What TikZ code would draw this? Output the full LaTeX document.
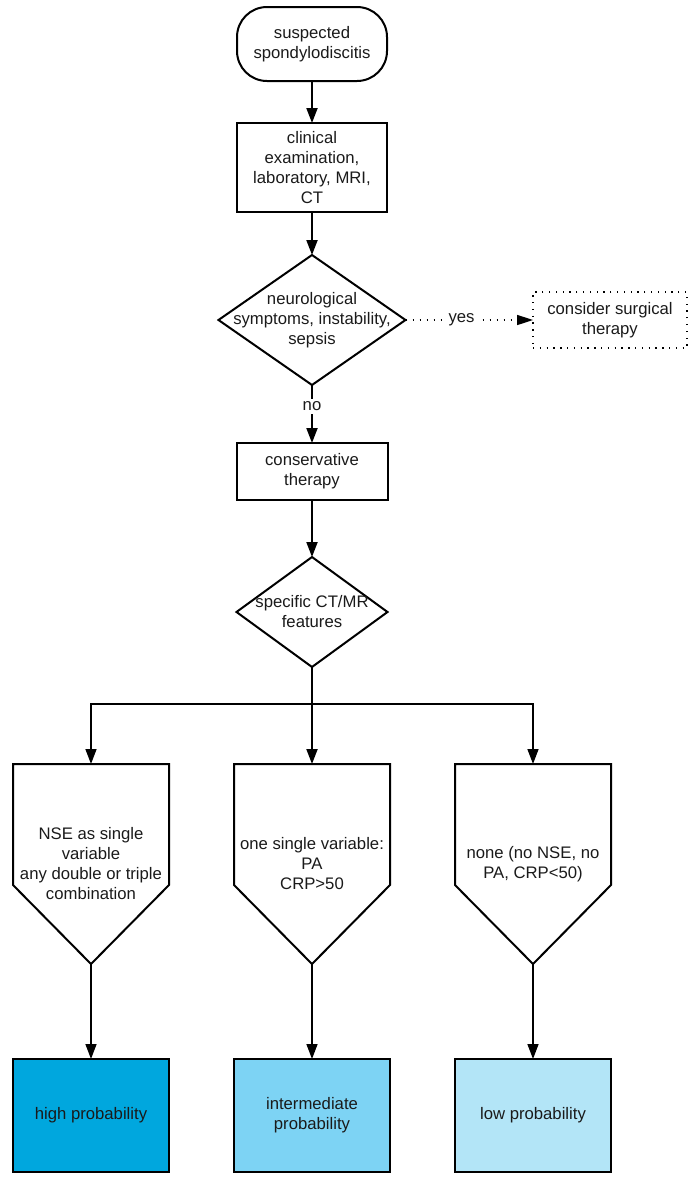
\documentclass[tikz,border=0pt]{standalone}
\usepackage{fontspec}
\setmainfont{Liberation Sans}
\usetikzlibrary{shapes.geometric,arrows.meta,calc}
\definecolor{hiblue}{HTML}{00A7DE}
\definecolor{midblue}{HTML}{7DD3F4}
\definecolor{loblue}{HTML}{B3E5F7}
\definecolor{txt}{HTML}{1A1A1A}
\begin{document}
\begin{tikzpicture}[x=1pt,y=-1pt,
  every node/.style={font=\fontsize{16.7}{20}\selectfont, align=center, inner sep=0pt, outer sep=0pt, text=txt},
  box/.style={draw, line width=2pt, minimum width=150pt},
  dia/.style={diamond, draw, line width=2pt},
  arr/.style={-{Triangle[length=15pt,width=11pt]}, line width=2pt},
  arrthin/.style={-{Triangle[length=15pt,width=11pt]}, line width=1.5pt},
  dotarr/.style={-{Triangle[length=16pt,width=10pt]}, line width=1.6pt, dash pattern=on 1.6pt off 5.4pt},
  pent/.style={minimum width=156pt, minimum height=200pt},
  pentline/.style={line width=2pt, line join=miter},
  res/.style={draw, line width=2pt, minimum width=156pt, minimum height=113pt}
]
\useasboundingbox (0,0) rectangle (699,1184);

\node[box, rounded corners=30pt, minimum height=74pt] (s) at (312,44) {suspected\\spondylodiscitis};
\node[box, minimum height=89pt] (ex) at (312,167.5) {clinical\\examination,\\laboratory, MRI,\\CT};
\node[dia, minimum width=187pt, minimum height=130pt] (d1) at (312,320) {};
\node at (d1) {neurological\\symptoms, instability,\\sepsis};
\node[draw, line width=1.3pt, dash pattern=on 1.3pt off 5.5pt, minimum width=154pt, minimum height=56pt] (sg) at (610,320) {consider surgical\\therapy};
\node[box, minimum width=151pt, minimum height=57pt] (ct) at (312,471.5) {conservative\\therapy};
\node[dia, minimum width=151pt, minimum height=110pt] (d2) at (312,612) {};
\node at (d2) {specific CT/MR\\features};
\coordinate (br) at (312,704);

\node[pent] (p1) at (91,864) {NSE as single\\variable\\any double or triple\\combination};
\node[pent] (p2) at (312,864) {one single variable:\\PA\\CRP>50};
\node[pent] (p3) at (533,864) {none (no NSE, no\\PA, CRP<50)};
\foreach \p in {p1,p2,p3}{
  \draw[pentline] (\p.north west) -- (\p.north east) -- ($(\p.north east)+(0,121)$) -- (\p.south) -- ($(\p.north west)+(0,121)$) -- cycle;
}

\node[res, fill=hiblue] (r1) at (91,1115.5) {high probability};
\node[res, fill=midblue] (r2) at (312,1115.5) {intermediate\\probability};
\node[res, fill=loblue] (r3) at (533,1115.5) {low probability};

\draw[arr] (s) -- (ex);
\draw[arr] (ex) -- (d1.north);
\draw[dotarr] (d1.east) -- (sg.west) node[pos=0.44, fill=white, inner xsep=4pt, inner ysep=2pt] {yes};
\draw[arr] (d1.south) -- (ct.north) node[pos=0.37, fill=white, inner ysep=3pt, inner xsep=2pt] {no};
\draw[arr] (ct.south) -- (d2.north);
\draw[arr] (d2.south) -- (p2.north);
\draw[arrthin] (br) -| (p1.north);
\draw[arrthin] (br) -| (p3.north);
\draw[arrthin] (p1.south) -- (r1.north);
\draw[arrthin] (p2.south) -- (r2.north);
\draw[arrthin] (p3.south) -- (r3.north);
\end{tikzpicture}
\end{document}
